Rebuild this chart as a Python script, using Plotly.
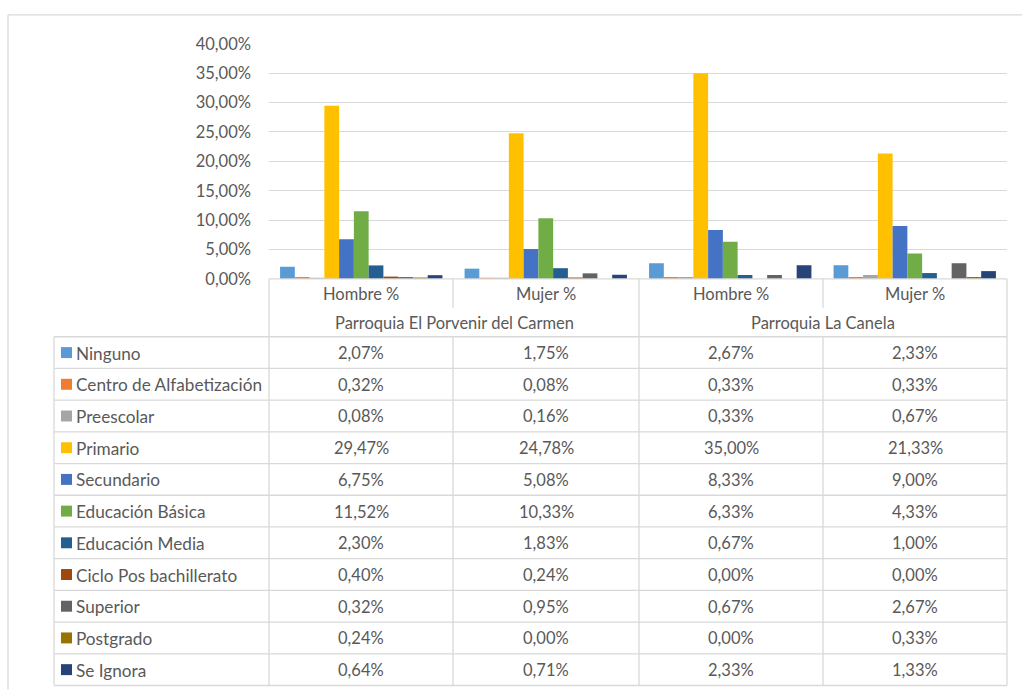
import plotly.graph_objects as go

W, H = 1022, 691

parroquias = ["Parroquia El Porvenir del Carmen", "Parroquia El Porvenir del Carmen",
              "Parroquia La Canela", "Parroquia La Canela"]
sexos = ["Hombre %", "Mujer %", "Hombre %", "Mujer %"]

niveles = ["Ninguno", "Centro de Alfabetización", "Preescolar", "Primario", "Secundario",
           "Educación Básica", "Educación Media", "Ciclo Pos bachillerato", "Superior",
           "Postgrado", "Se Ignora"]

ninguno = [2.07, 1.75, 2.67, 2.33]
centro = [0.32, 0.08, 0.33, 0.33]
preescolar = [0.08, 0.16, 0.33, 0.67]
primario = [29.47, 24.78, 35.00, 21.33]
secundario = [6.75, 5.08, 8.33, 9.00]
basica = [11.52, 10.33, 6.33, 4.33]
media = [2.30, 1.83, 0.67, 1.00]
ciclo = [0.40, 0.24, 0.00, 0.00]
superior = [0.32, 0.95, 0.67, 2.67]
postgrado = [0.24, 0.00, 0.00, 0.33]
se_ignora = [0.64, 0.71, 2.33, 1.33]

series = [ninguno, centro, preescolar, primario, secundario, basica, media,
          ciclo, superior, postgrado, se_ignora]

colors = ["#5B9BD5", "#ED7D31", "#A5A5A5", "#FFC000", "#4472C4", "#70AD47",
          "#255E91", "#9E480E", "#636363", "#997300", "#264478"]

FONT = "Lato, Carlito, Liberation Sans, Arial"
FS = 16.5
FS_LBL = 17.2
TXT = "#595959"
GRID = "#D9D9D9"

# the rendered page maps the figure's paper onto screen rows ~9..682
SCR_TOP, SCR_H = 9.1, 673.4


def X(px):
    return px / W


def Y(py):
    return 1 - (py - SCR_TOP) / SCR_H


# layout geometry (screen pixels)
PL, PR, PT, PB = 269, 1007, 43, 279
col_edges = [269, 453, 639, 823, 1007]
row1_bot = 308
hdr_bot = 337
tbl_left = 54
tbl_bot = 687
row_h = (tbl_bot - hdr_bot) / len(niveles)

fig = go.Figure()
x_mc = [parroquias, sexos]
for name, vals, c in zip(niveles, series, colors):
    fig.add_trace(go.Bar(x=x_mc, y=vals, name=name, marker=dict(color=c, line=dict(width=0)),
                         showlegend=False))

shapes = []
annotations = []


def hline(y, x0, x1):
    shapes.append(dict(type="line", xref="paper", yref="paper", x0=X(x0), x1=X(x1),
                       y0=Y(y), y1=Y(y), line=dict(color=GRID, width=1.3), layer="above"))


def vline(x, y0, y1):
    shapes.append(dict(type="line", xref="paper", yref="paper", x0=X(x), x1=X(x),
                       y0=Y(y0), y1=Y(y1), line=dict(color=GRID, width=1.3), layer="above"))


def text(x, y, s, anchor="center", size=FS):
    annotations.append(dict(x=X(x), y=Y(y), xref="paper", yref="paper", text=s, showarrow=False,
                            xanchor=anchor, yanchor="middle",
                            font=dict(family=FONT, size=size, color=TXT)))


# outer chart border
hline(14, 8, W)
vline(8, 14, 691)

# category axis header
hline(PB, PL, PR)
vline(col_edges[0], PB, tbl_bot)
vline(col_edges[2], PB, tbl_bot)
vline(col_edges[4], PB, tbl_bot)
vline(col_edges[1], PB, row1_bot)
vline(col_edges[3], PB, row1_bot)
vline(col_edges[1], hdr_bot, tbl_bot)
vline(col_edges[3], hdr_bot, tbl_bot)
vline(tbl_left, hdr_bot, tbl_bot)

for i in range(4):
    cx = (col_edges[i] + col_edges[i + 1]) / 2
    text(cx, (PB + row1_bot) / 2 + 0.5, sexos[i])
text((col_edges[0] + col_edges[2]) / 2, (row1_bot + hdr_bot) / 2 + 0.5, parroquias[0])
text((col_edges[2] + col_edges[4]) / 2, (row1_bot + hdr_bot) / 2 + 0.5, parroquias[2])

# data table
for r in range(len(niveles) + 1):
    hline(hdr_bot + r * row_h, tbl_left, PR)

for r, (name, vals, c) in enumerate(zip(niveles, series, colors)):
    cy = hdr_bot + (r + 0.5) * row_h
    shapes.append(dict(type="rect", xref="paper", yref="paper", x0=X(61), x1=X(72),
                       y0=Y(cy + 5.5), y1=Y(cy - 5.5), fillcolor=c, line=dict(width=0)))
    text(73.5, cy + 0.5, name, anchor="left", size=FS_LBL)
    for i in range(4):
        cx = (col_edges[i] + col_edges[i + 1]) / 2
        text(cx, cy + 0.5, f"{vals[i]:.2f}%".replace(".", ","))

fig.update_layout(
    width=W, height=H,
    margin=dict(l=0, r=0, t=0, b=0),
    paper_bgcolor="white", plot_bgcolor="white",
    separators=",.",
    barmode="group", bargap=0.12, bargroupgap=0,
    font=dict(family=FONT, size=FS, color=TXT),
    xaxis=dict(domain=[X(PL), X(PR)], showticklabels=False, showgrid=False,
               zeroline=False, showline=False, ticks=""),
    yaxis=dict(domain=[Y(PB), Y(PT)], range=[0, 40], dtick=5, tickformat=".2f",
               ticksuffix="%", showgrid=True, gridcolor=GRID, gridwidth=1.3,
               zeroline=False, showline=False, ticks="", ticklabelstandoff=17,
               tickfont=dict(family=FONT, size=FS, color=TXT)),
    shapes=shapes, annotations=annotations,
)

fig.write_html("out.html", config={"displayModeBar": False},
               post_script="document.body.style.margin='0';document.body.style.overflow='hidden';")
